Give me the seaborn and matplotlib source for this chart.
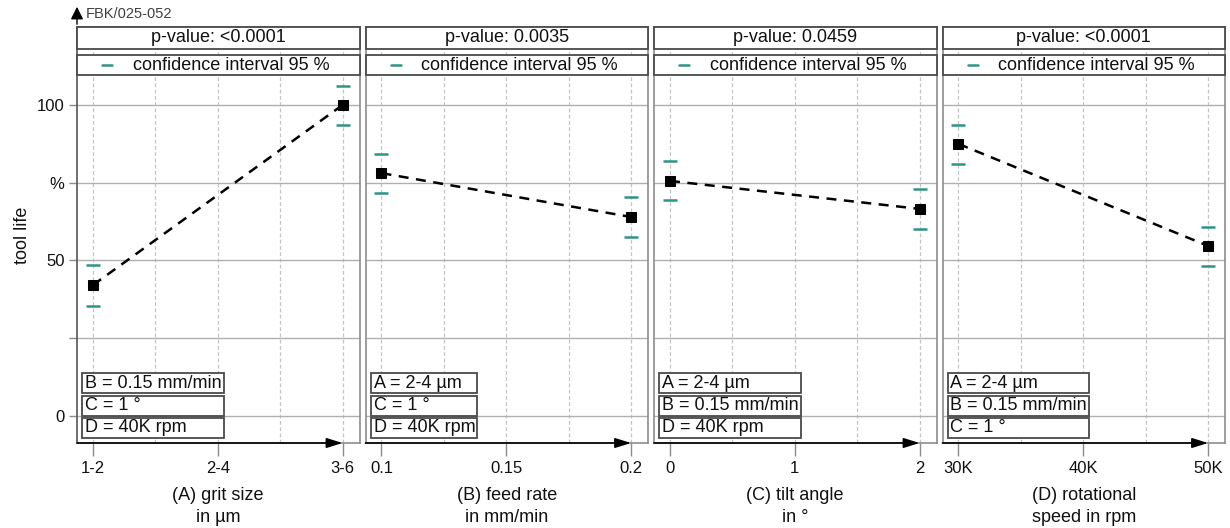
import numpy as np
import pandas as pd
import matplotlib
matplotlib.use("Agg")
import matplotlib.pyplot as plt
import matplotlib.patches as mpatches
import seaborn as sns

# factor levels (tick positions / labels) per panel
grit_ticks = [0, 1, 2]
grit_labels = ["1-2", "2-4", "3-6"]
feed_ticks = [0.1, 0.15, 0.2]
feed_labels = ["0.1", "0.15", "0.2"]
tilt_ticks = [0, 1, 2]
tilt_labels = ["0", "1", "2"]
speed_ticks = [30, 40, 50]
speed_labels = ["30K", "40K", "50K"]

# tested levels (low / high) and tool life in %
grit_x = [0, 2]
grit_mean = [42.1, 100.0]
grit_upper = [48.6, 106.0]
grit_lower = [35.4, 93.6]

feed_x = [0.1, 0.2]
feed_mean = [78.1, 64.0]
feed_upper = [84.2, 70.4]
feed_lower = [71.7, 57.6]

tilt_x = [0, 2]
tilt_mean = [75.6, 66.6]
tilt_upper = [82.0, 73.0]
tilt_lower = [69.5, 60.1]

speed_x = [30, 50]
speed_mean = [87.5, 54.7]
speed_upper = [93.6, 60.8]
speed_lower = [81.0, 48.2]

p_values = ["p-value: <0.0001", "p-value: 0.0035", "p-value: 0.0459", "p-value: <0.0001"]
x_titles = ["(A) grit size\nin µm", "(B) feed rate\nin mm/min", "(C) tilt angle\nin °",
            "(D) rotational\nspeed in rpm"]
fixed_params = [
    ["B = 0.15 mm/min", "C = 1 °", "D = 40K rpm"],
    ["A = 2-4 µm", "C = 1 °", "D = 40K rpm"],
    ["A = 2-4 µm", "B = 0.15 mm/min", "D = 40K rpm"],
    ["A = 2-4 µm", "B = 0.15 mm/min", "C = 1 °"],
]
y_ticks = [0, 25, 50, 75, 100]
y_labels = ["0", "", "50", "%", "100"]

panels = [
    (grit_x, grit_mean, grit_upper, grit_lower, grit_ticks, grit_labels),
    (feed_x, feed_mean, feed_upper, feed_lower, feed_ticks, feed_labels),
    (tilt_x, tilt_mean, tilt_upper, tilt_lower, tilt_ticks, tilt_labels),
    (speed_x, speed_mean, speed_upper, speed_lower, speed_ticks, speed_labels),
]

sns.set_theme(style="white")
plt.rcParams["font.family"] = ["Liberation Sans", "DejaVu Sans"]
plt.rcParams["text.color"] = "#111111"
plt.rcParams["axes.labelcolor"] = "#111111"
plt.rcParams["xtick.labelcolor"] = "#111111"
plt.rcParams["ytick.labelcolor"] = "#111111"

CI_COLOR = "#2f9484"
FRAME = "#8c8c8c"
BOX_EDGE = "#4a4a4a"
FS = 13

W, H = 1230, 528
fig = plt.figure(figsize=(W / 100, H / 100), dpi=100)

left_px, right_px, top_px, bottom_px = 77, 1225, 27, 443
gap_px = 6
pw = (right_px - left_px - 3 * gap_px) / 4
ah = bottom_px - top_px

axes = []
for i, (xs, mean, up, lo, ticks, labels) in enumerate(panels):
    x0 = left_px + i * (pw + gap_px)
    ax = fig.add_axes([x0 / W, 1 - bottom_px / H, pw / W, ah / H])
    axes.append(ax)

    df = pd.DataFrame({"level": xs, "mean": mean, "upper": up, "lower": lo})
    sns.lineplot(data=df, x="level", y="mean", ax=ax, color="black", linestyle="--",
                 linewidth=1.8, marker="s", markersize=7, markeredgecolor="black", zorder=4)
    ax.lines[-1].set_dashes((4, 3))
    for col in ["upper", "lower"]:
        ax.plot(df["level"], df[col], linestyle="none", marker="_", markersize=10,
                markeredgewidth=1.8, color=CI_COLOR, zorder=4)

    span = ticks[-1] - ticks[0]
    ax.set_xlim(ticks[0] - 0.064 * span, ticks[-1] + 0.068 * span)
    ax.set_ylim(-8.7, 125.1)
    ax.set_xticks(ticks)
    ax.set_xticklabels(labels, fontsize=12)
    step = (ticks[1] - ticks[0]) / 2
    ax.set_xticks([ticks[0] + step, ticks[1] + step], minor=True)
    ax.set_yticks(y_ticks)
    ax.set_xlabel(x_titles[i], fontsize=FS, labelpad=8, linespacing=1.4)
    ax.set_ylabel("")

    ax.grid(axis="x", which="both", linestyle=(0, (3, 2)), color="#c4c4c4", linewidth=0.9)
    ax.grid(axis="y", which="major", color="#b0b0b0", linewidth=1.0)
    ax.set_axisbelow(True)

    for s in ax.spines.values():
        s.set_color(FRAME)
        s.set_linewidth(1.2)

    ax.tick_params(axis="x", which="major", direction="out", length=9, width=1,
                   color=FRAME, pad=4, bottom=True)
    ax.tick_params(axis="x", which="minor", length=0)
    if i == 0:
        ax.set_yticklabels(y_labels, fontsize=12)
        ax.tick_params(axis="y", direction="out", length=6, width=1, color=FRAME, left=True, pad=3)
        ax.spines["left"].set_color("#555555")
        ax.set_ylabel("tool life", fontsize=FS, labelpad=4)
    else:
        ax.set_yticklabels([])
        ax.tick_params(axis="y", length=0)

    # bottom axis arrow up to the high level
    ax.annotate("", xy=(ticks[-1], 0), xycoords=("data", "axes fraction"),
                xytext=(0, 0), textcoords="axes fraction",
                arrowprops=dict(arrowstyle="-|>,head_length=0.8,head_width=0.25",
                                color="black", lw=1.2, shrinkA=0, shrinkB=0),
                annotation_clip=False, zorder=6)

    # strip boxes at the top
    ax.add_patch(mpatches.Rectangle((0, 1 - 22 / ah), 1, 22 / ah, transform=ax.transAxes,
                                    facecolor="white", edgecolor=BOX_EDGE, lw=1.3,
                                    clip_on=False, zorder=5))
    ax.text(0.5, 1 - 11 / ah, p_values[i], transform=ax.transAxes, ha="center",
            va="center", fontsize=FS, zorder=6)
    ax.add_patch(mpatches.Rectangle((0, 1 - 48 / ah), 1, 20 / ah, transform=ax.transAxes,
                                    facecolor="white", edgecolor=BOX_EDGE, lw=1.3,
                                    clip_on=False, zorder=5))
    ax.plot([0.09, 0.125], [1 - 38 / ah] * 2, transform=ax.transAxes, color=CI_COLOR,
            lw=1.8, clip_on=False, zorder=6)
    ax.text(0.545, 1 - 38 / ah, "confidence interval 95 %", transform=ax.transAxes,
            ha="center", va="center", fontsize=FS, zorder=6)

fig.canvas.draw()
renderer = fig.canvas.get_renderer()

# boxes with the fixed factor settings
for i, ax in enumerate(axes):
    bx = 5 / pw
    texts = []
    for k, txt in enumerate(fixed_params[i]):
        yc = (60 - 22.5 * k) / ah
        t = ax.text(bx + 3 / pw, yc, txt, transform=ax.transAxes, ha="left",
                    va="center", fontsize=FS, zorder=6)
        texts.append((t, yc))
    widths = [t.get_window_extent(renderer).width for t, _ in texts]
    bw = (max(widths) + 5) / pw
    for t, yc in texts:
        ax.add_patch(mpatches.Rectangle((bx, yc - 10 / ah), bw, 20 / ah,
                                        transform=ax.transAxes, facecolor="white",
                                        edgecolor=BOX_EDGE, lw=1.3, zorder=5))

# y axis arrow and figure id
fig.add_artist(mpatches.FancyArrowPatch((left_px / W, 1 - top_px / H), (left_px / W, 1 - 4 / H),
                                        transform=fig.transFigure,
                                        arrowstyle="-|>,head_length=5,head_width=2.5",
                                        color="black", lw=1.0, mutation_scale=1.5))
fig.text((left_px + 9) / W, 1 - 14 / H, "FBK/025-052", fontsize=10.5, color="#404040",
         ha="left", va="center")

fig.savefig("out.png", dpi=100)
